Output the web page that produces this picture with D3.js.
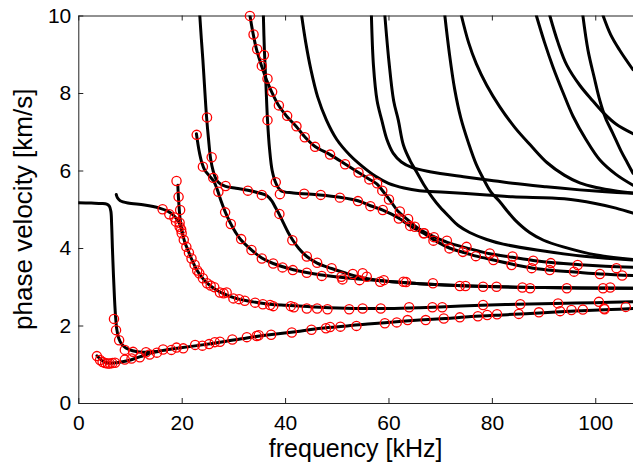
<!DOCTYPE html>
<html>
<head>
<meta charset="utf-8">
<script src="https://cdn.jsdelivr.net/npm/d3@7"></script>
<style>
body{margin:0;background:#fff}
svg{display:block;font-family:"Liberation Sans",Arial,Helvetica,sans-serif}
</style>
</head>
<body>
<svg width="633" height="465"></svg>
<script>
// dispersion branches, each point is [frequency kHz, phase velocity km/s]
var modeA = [[0,5.17],[2.5,5.16],[4.5,5.15],[5.5,5.13],[6.0,5.08],[6.3,4.95],[6.45,4.6],[6.6,4.0],[6.8,3.3],[7.0,2.7],[7.2,2.25],[7.45,1.9],[7.8,1.68],[8.4,1.52],[9.2,1.42],[10.5,1.35],[12.5,1.31],[14.5,1.32],[17,1.37],[19.5,1.42],[24,1.5],[28,1.58],[32.6,1.68],[37,1.76],[42,1.84],[47,1.93],[52,1.99],[56,2.04],[61,2.09],[66,2.14],[71,2.18],[76,2.23],[83,2.28],[90,2.33],[97,2.38],[103,2.41],[107.3,2.44]]
var modeB = [[3.6,1.22],[4.3,1.13],[5.0,1.06],[5.8,1.03],[6.8,1.03],[8.0,1.05],[9.5,1.09],[11,1.15],[12.5,1.22],[14,1.29],[15.5,1.33]]
var modeS = [[7.35,5.38],[7.6,5.29],[8.1,5.22],[9.6,5.16],[12.8,5.11],[15.7,5.03],[17.3,4.95],[18.6,4.82],[19.6,4.63],[20.1,4.4],[20.6,4.15],[21.2,3.95],[21.7,3.78],[22.3,3.6],[22.9,3.44],[23.6,3.3],[24.5,3.15],[25.6,3.02],[26.8,2.91],[28.3,2.81],[30.5,2.7],[33.8,2.61],[37,2.55],[40.3,2.52],[46.7,2.47],[53.2,2.44],[60,2.44],[66,2.46],[72,2.49],[78,2.52],[85,2.55],[92,2.57],[100,2.59],[107.3,2.61]]
var modeT = [[19.25,5.62],[19.35,5.35],[19.5,5.05],[19.65,4.8],[19.85,4.6],[20.1,4.4]]
var modeC = [[23.5,10],[23.8,9.4],[24.1,8.85],[24.5,8.0],[24.8,7.4],[25.2,6.8],[25.6,6.3],[26.1,5.98],[26.7,5.76],[27.5,5.65],[28.5,5.59],[30.5,5.54],[32.8,5.49],[35.0,5.42],[36.5,5.35],[37.4,5.22],[38.2,5.03],[38.9,4.86],[39.7,4.64],[40.6,4.4],[41.5,4.2],[42.7,3.98],[44.2,3.78],[46.2,3.61],[49,3.47],[51.5,3.36],[53.5,3.28],[56,3.21],[59.7,3.14],[66,3.08],[75.7,3.02],[90,2.98],[107.3,2.96]]
var modeD = [[22.85,6.95],[23.1,6.72],[23.45,6.45],[23.9,6.2],[24.5,6.0],[25.3,5.87],[26.2,5.72],[26.9,5.5],[27.6,5.22],[28.4,4.94],[29.4,4.65],[30.4,4.41],[31.4,4.22],[33.5,3.95],[35.5,3.74],[37.7,3.6],[41.6,3.44],[46.7,3.31],[53.2,3.21],[59.7,3.14],[66,3.08],[75.7,3.02],[90,2.98],[107.3,2.96]]
var modeE = [[33.2,10],[33.8,9.54],[34.5,9.11],[35.5,8.68],[36.4,8.34],[37.4,8.03],[38.7,7.69],[40.3,7.4],[42.2,7.13],[43.8,6.87],[45.8,6.62],[48.7,6.41],[51.6,6.17],[54.2,5.95],[56.2,5.78],[57.8,5.65],[58.9,5.47],[60.2,5.25],[61.9,4.94],[63.8,4.72],[65.5,4.53],[67.5,4.37],[69.5,4.25],[72,4.12],[75.7,3.98],[79.6,3.85],[84,3.76],[88,3.68],[92,3.62],[97,3.57],[102,3.53],[107.3,3.5]]
var modeF = [[35.8,10],[36.0,9.1],[36.3,8.2],[36.6,7.3],[37.0,6.55],[37.5,6.0],[38.2,5.68],[39.2,5.48],[41.6,5.42],[46.7,5.37],[50.6,5.31],[54.1,5.22],[56.5,5.09],[58.9,4.98],[60.5,4.88],[62.1,4.76],[64.2,4.57],[66.8,4.38],[68.8,4.21],[71.8,4.0],[74.4,3.89],[77,3.79],[80.3,3.69],[84,3.58],[88,3.48],[92,3.42],[96,3.38],[101,3.33],[107.3,3.29]]
var modeG = [[43.2,10],[44,9.3],[45,8.6],[46.3,7.9],[48,7.3],[50,6.8],[52.5,6.4],[55,6.1],[57.5,5.85],[60,5.67],[63,5.55],[66,5.48],[71,5.44],[79,5.37],[84,5.32],[94,5.27],[100,5.15],[104,5.03],[107.3,4.9]]
var modeH = [[56.7,10],[57.1,8.7],[57.8,7.8],[58.7,7.3],[59.7,6.8],[60.9,6.45],[62.5,6.22],[64.5,6.08],[68,5.97],[74.5,5.84],[79.6,5.75],[84,5.67],[90.5,5.58],[97,5.5],[102,5.45],[107.3,5.41]]
var modeI = [[59.3,10],[60.1,8.8],[61,7.8],[61.9,7.3],[62.9,6.65],[64.2,6.25],[65.5,5.95],[67,5.6],[68.5,5.3],[70,5.05],[71.8,4.8],[73.5,4.58],[75.7,4.4],[79,4.22],[82.2,4.1],[88.7,3.95],[98.3,3.78],[107.3,3.69]]
var modeJ = [[70.9,10],[71.8,9.0],[72.8,8.1],[74,7.35],[75.5,6.7],[77,6.15],[78.5,5.75],[79.8,5.45],[81.5,5.2],[83,4.95],[84.5,4.72],[87.3,4.4],[90,4.2],[93.8,4.03],[100.2,3.82],[107.3,3.7]]
var modeK = [[74.1,10],[75.5,9.3],[77,8.75],[79,8.2],[81.5,7.65],[84.5,7.1],[87.5,6.65],[90.7,6.2],[94,5.88],[97,5.68],[100.2,5.56],[104,5.47],[107.3,5.42]]
var modeL = [[88.6,10],[90.2,9.3],[91.8,8.68],[93.8,8.0],[95.7,7.4],[98.2,6.8],[100.9,6.27],[104,5.9],[107.3,5.62]]
var modeM = [[91.2,10],[92.8,9.3],[94.5,8.72],[97,8.2],[99.5,7.8],[101.5,7.5],[104,7.2],[107.3,6.95]]
var modeN = [[97.6,10],[98.6,9.1],[99.8,8.4],[100.9,7.8],[102,7.35],[103.4,6.96],[105,6.5],[106.2,6.2],[107.3,5.93]]
var modeO = [[101.5,10],[103,9.5],[104.7,9.11],[107.3,8.6]]

// measured points (red circles)
var markersA0 = [[3.6,1.21],[4.2,1.11],[4.7,1.06],[5.2,1.03],[5.7,1.02],[6.1,1.02],[6.6,1.03],[7.1,1.04],[6.9,2.17],[7.3,1.88],[7.9,1.62],[9.0,1.37],[9.0,1.12],[10.3,1.15],[10.6,1.32],[11.9,1.18],[13.1,1.31],[13.8,1.25],[15.2,1.3],[16.4,1.38],[18.0,1.37],[19.0,1.43],[20.3,1.41],[22.6,1.5],[24.0,1.48],[25.3,1.52],[26.4,1.57],[27.4,1.58],[29.8,1.64],[32.6,1.7],[34.5,1.73],[34.9,1.75],[37.3,1.76],[41.3,1.82],[45.1,1.89],[47.9,1.93],[48.7,1.96],[50.7,1.97],[53.8,1.99],[59.3,2.06],[61.6,2.08],[63.7,2.14],[67.2,2.14],[70.7,2.18],[73.8,2.21],[77.3,2.24],[79.1,2.27],[81.0,2.29],[85.2,2.3],[89.1,2.34],[93.2,2.37],[95.4,2.4],[97.6,2.41],[101.8,2.42]]
var markersS = [[19.0,5.73],[19.4,5.32],[19.7,4.98],[16.3,5.0],[17.6,4.87],[18.6,4.79],[19.6,4.65],[18.9,4.68],[19.6,4.55],[19.9,4.48],[20.0,4.38],[20.4,4.21],[20.9,4.03],[21.4,3.88],[21.9,3.73],[22.5,3.57],[23.0,3.42],[23.4,3.35],[24.1,3.22],[24.9,3.09],[25.6,3.03],[26.3,2.99],[27.4,2.85],[28.1,2.83],[28.7,2.85],[30.0,2.7],[31.1,2.68],[32.2,2.64],[34.2,2.59],[35.7,2.55],[37.1,2.53],[37.7,2.5],[41.1,2.5],[41.7,2.47],[44.2,2.44],[46.2,2.44],[48.2,2.42],[52.4,2.42],[55.0,2.44],[58.5,2.44],[64.0,2.47],[68.5,2.47],[70.4,2.47],[78.3,2.53],[85.5,2.55],[92.8,2.57],[100.7,2.61],[101.7,2.44],[105.9,2.48]]
var markersCD = [[22.9,6.92],[24.9,7.37],[24.1,6.1],[25.8,6.34],[26.1,5.81],[27.1,5.45],[28.5,5.6],[32.8,5.48],[35.5,5.37],[28.4,4.92],[29.5,4.62],[31.5,4.23],[33.5,3.95],[35.5,3.73],[37.7,3.6],[39.5,3.5],[41.5,3.43],[44.2,3.36],[47.1,3.28],[50.9,3.26],[51.1,3.19],[54.4,3.17],[55.8,3.26],[58.4,3.13],[59.1,3.17],[62.9,3.13],[63.4,3.12],[38.9,4.88],[41.4,4.2],[44.2,3.78],[46.2,3.62],[49.0,3.48],[53.1,3.33],[55.0,3.35],[68.6,3.09],[73.8,3.02],[74.9,3.02],[78.3,3.0],[80.9,3.0],[85.9,2.98],[87.4,2.96],[94.5,2.96],[101.5,2.96],[102.9,2.98]]
var markersEF = [[33.2,9.99],[33.9,9.51],[34.6,9.13],[35.9,8.98],[35.5,8.7],[36.6,8.37],[37.5,8.03],[38.8,7.68],[40.4,7.41],[42.2,7.14],[43.8,6.86],[45.8,6.61],[48.7,6.41],[51.6,6.16],[54.2,5.95],[56.3,5.77],[57.8,5.67],[58.8,5.48],[60.1,5.25],[62.2,4.94],[63.8,4.75],[65.1,4.55],[66.9,4.38],[68.8,4.28],[71.3,4.19],[75.1,4.03],[79.6,3.86],[84,3.78],[88,3.67],[91.4,3.61],[96.6,3.56],[104.1,3.48],
                 [36.6,7.3],[38.2,5.7],[39,5.39],[43.7,5.4],[46.9,5.37],[50.6,5.3],[54.1,5.21],[56.5,5.08],[58.9,4.98],[62,4.76],[64.2,4.57],[66.8,4.38],[68.7,4.19],[71.8,3.99],[74.4,3.9],[76.9,3.79],[80.3,3.69],[83.8,3.56],[87.7,3.48],[91.2,3.43],[95.9,3.39],[100.9,3.33],[105.2,3.29]]

var xTicks = [0,20,40,60,80,100]
var yTicks = [0,2,4,6,8,10]

var curves = [modeA,modeB,modeS,modeT,modeC,modeD,modeE,modeF,modeG,modeH,modeI,modeJ,modeK,modeL,modeM,modeN,modeO]
var markers = markersA0.concat(markersS,markersCD,markersEF)

var plot = {left:78.3,right:633,top:15.5,bottom:403}

var xScale = d3.scaleLinear()
    .domain([0,107.3])
    .range([plot.left,plot.right])
var yScale = d3.scaleLinear()
    .domain([0,10])
    .range([plot.bottom,plot.top])

var svg = d3.select("svg")

svg.append("defs")
    .append("clipPath")
    .attr("id","plotclip")
    .append("rect")
    .attr("x",plot.left)
    .attr("y",plot.top)
    .attr("width",plot.right-plot.left)
    .attr("height",plot.bottom-plot.top)

var drawAxes = function()
{
    var xAxis = d3.axisBottom(xScale)
        .tickValues(xTicks)
        .tickSizeInner(-5)
        .tickSizeOuter(0)
        .tickPadding(12)
    var topAxis = d3.axisTop(xScale)
        .tickValues(xTicks)
        .tickSizeInner(-5)
        .tickSizeOuter(0)
        .tickFormat("")
    var yAxis = d3.axisLeft(yScale)
        .tickValues(yTicks)
        .tickSizeInner(-5)
        .tickSizeOuter(0)
        .tickPadding(7)

    var axes = svg.append("g").classed("axes",true)
    axes.append("g")
        .attr("transform","translate(0,"+plot.bottom+")")
        .call(xAxis)
    axes.append("g")
        .attr("transform","translate(0,"+plot.top+")")
        .call(topAxis)
    axes.append("g")
        .attr("transform","translate("+plot.left+",0)")
        .call(yAxis)

    axes.selectAll("text")
        .attr("font-family","'Liberation Sans',Arial,Helvetica,sans-serif")
        .attr("font-size",21)
        .attr("fill","#000")
    axes.selectAll("path,line")
        .attr("stroke","#222")
}

var drawLines = function()
{
    var lineGenerator = d3.line()
        .x(function(d){ return xScale(d[0]) })
        .y(function(d){ return yScale(d[1]) })
        .curve(d3.curveCatmullRom.alpha(0.5))

    svg.append("g")
        .attr("clip-path","url(#plotclip)")
        .selectAll("path")
        .data(curves)
        .enter()
        .append("path")
        .attr("d",lineGenerator)
        .attr("fill","none")
        .attr("stroke","#000")
        .attr("stroke-width",3)
        .attr("stroke-linejoin","round")
        .attr("stroke-linecap","round")
}

var drawMarkers = function()
{
    svg.append("g")
        .selectAll("circle")
        .data(markers)
        .enter()
        .append("circle")
        .attr("cx",function(d){ return xScale(d[0]) })
        .attr("cy",function(d){ return yScale(d[1]) })
        .attr("r",4.6)
        .attr("fill","none")
        .attr("stroke","#ff0000")
        .attr("stroke-width",1.3)
}

var drawLabels = function()
{
    var labels = svg.append("g").classed("labels",true)
        .attr("font-size",25)
        .attr("fill","#000")

    labels.append("text")
        .text("frequency [kHz]")
        .attr("text-anchor","middle")
        .attr("x",(plot.left+plot.right)/2)
        .attr("y",457)

    labels.append("text")
        .text("phase velocity [km/s]")
        .attr("text-anchor","middle")
        .attr("font-size",26)
        .attr("transform","translate(32,"+((plot.top+plot.bottom)/2)+") rotate(-90)")
}

drawAxes()
drawLines()
drawMarkers()
drawLabels()
</script>
</body>
</html>
